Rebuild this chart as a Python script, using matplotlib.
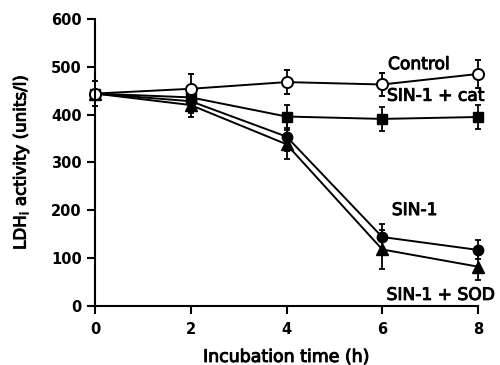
import matplotlib
matplotlib.use("Agg")
import matplotlib.pyplot as plt
import matplotlib.patheffects as pe

plt.rcParams['font.family'] = ['DejaVu Sans']

time_h = [0, 2, 4, 6, 8]

control = [444, 454, 468, 463, 485]
control_err = [26, 30, 25, 25, 30]

sin1_cat = [444, 436, 396, 391, 395]
sin1_cat_err = [26, 25, 25, 25, 25]

sin1 = [444, 428, 354, 144, 117]
sin1_err = [26, 25, 30, 28, 20]

sin1_sod = [444, 420, 338, 118, 82]
sin1_sod_err = [26, 25, 30, 40, 27]

x_ticks = [0, 2, 4, 6, 8]
y_ticks = [0, 100, 200, 300, 400, 500, 600]

fig = plt.figure(figsize=(5.0, 3.65), dpi=100)
ax = fig.add_axes([0.19, 0.162, 0.766, 0.786])

common = dict(color='black', ecolor='black', elinewidth=1.3, capsize=2.5,
              capthick=1.3, linewidth=1.4, clip_on=False)

ax.errorbar(time_h, sin1_sod, yerr=sin1_sod_err, marker='^', mfc='black',
            mec='black', markersize=8, **common)
ax.errorbar(time_h, sin1, yerr=sin1_err, marker='o', mfc='black',
            mec='black', markersize=7.5, **common)
ax.errorbar(time_h, sin1_cat, yerr=sin1_cat_err, marker='s', mfc='black',
            mec='black', markersize=7, **common)
ax.errorbar(time_h, control, yerr=control_err, marker='o', mfc='white',
            mec='black', mew=1.4, markersize=8, **common)

ax.set_xlim(0, 8)
ax.set_ylim(0, 600)
ax.set_xticks(x_ticks)
ax.set_yticks(y_ticks)
ax.spines['top'].set_visible(False)
ax.spines['right'].set_visible(False)
ax.spines['left'].set_linewidth(1.5)
ax.spines['bottom'].set_linewidth(1.5)
ax.tick_params(axis='both', direction='out', length=5.5, width=1.5,
               labelsize=10.5)
ax.tick_params(axis='x', pad=6)
ax.tick_params(axis='y', pad=4)
for lab in ax.get_xticklabels() + ax.get_yticklabels():
    lab.set_fontweight('bold')

thick = [pe.withStroke(linewidth=0.7, foreground='black')]

ax.set_xlabel('Incubation time (h)', fontsize=12.5, labelpad=8,
              path_effects=thick)
ax.set_ylabel('LDH$_\\mathregular{i}$ activity (units/l)', fontsize=12,
              labelpad=14, path_effects=thick)

lab_kw = dict(fontsize=12.3, va='baseline', ha='left', path_effects=thick)
ax.text(6.12, 495, 'Control', **lab_kw)
ax.text(6.10, 429, 'SIN-1 + cat', **lab_kw)
ax.text(6.20, 190, 'SIN-1', **lab_kw)
ax.text(6.09, 12.5, 'SIN-1 + SOD', **lab_kw)

fig.savefig('out.png', dpi=100)
